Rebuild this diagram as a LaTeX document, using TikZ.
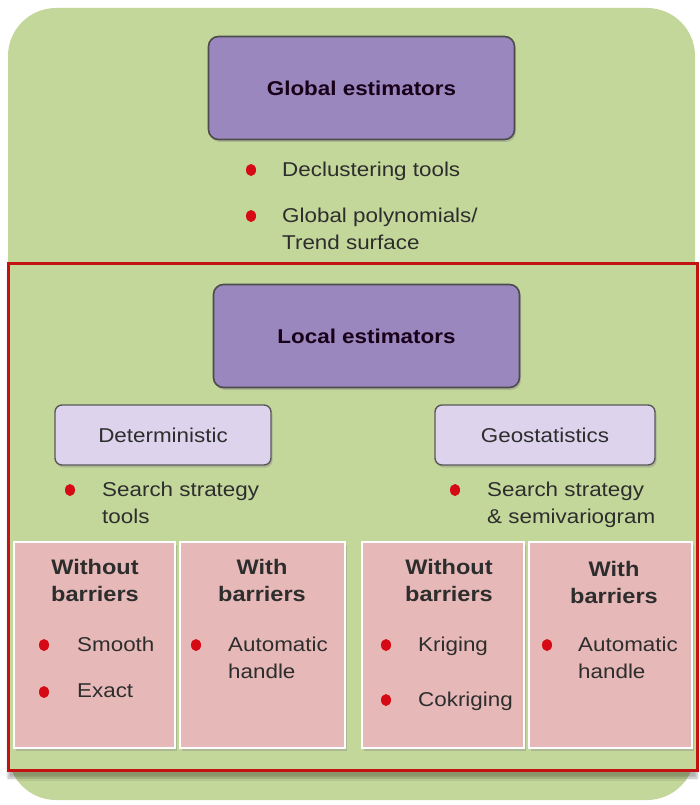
\documentclass[tikz,border=0pt]{standalone}
\usepackage{fontspec}
\setmainfont[FakeStretch=1.12]{Liberation Sans}
\usetikzlibrary{shadows,shadows.blur,shapes.geometric}

\definecolor{leafgreen}{RGB}{196,215,155}
\definecolor{violetbox}{RGB}{153,135,190}
\definecolor{lilacbox}{RGB}{221,211,236}
\definecolor{rosebox}{RGB}{230,185,184}
\definecolor{framered}{RGB}{196,18,18}
\definecolor{dotred}{RGB}{214,10,20}
\definecolor{inkgray}{RGB}{45,45,45}

\begin{document}
\begin{tikzpicture}[x=1pt, y=-1pt,
    panel/.style={fill=leafgreen, rounded corners=48pt},
    frame/.style={draw=framered, line width=3pt, fill=leafgreen,
                  blur shadow={shadow xshift=0pt, shadow yshift=-8pt,
                               shadow blur steps=8, shadow opacity=30}},
    estbox/.style={draw=black!70, line width=1.6pt, rounded corners=10pt,
                   fill=violetbox, minimum width=306pt, minimum height=103pt,
                   font=\fontsize{20}{24}\selectfont\bfseries, text=black!80!violet,
                   drop shadow={opacity=0.35, shadow xshift=1.5pt, shadow yshift=-2.5pt}},
    kindbox/.style={draw=black!65, line width=1.4pt, rounded corners=7pt,
                    fill=lilacbox, minimum height=60pt,
                    font=\fontsize{20}{24}\selectfont, text=inkgray,
                    drop shadow={opacity=0.35, shadow xshift=1.5pt, shadow yshift=-2.5pt}},
    casebox/.style={draw=white, line width=1.5pt, fill=rosebox, minimum height=206pt,
                    drop shadow={opacity=0.35, shadow xshift=2pt, shadow yshift=-3pt}},
    head/.style={anchor=north, align=center, inner sep=0pt,
                 font=\fontsize{21}{27}\selectfont\bfseries, text=inkgray},
    item/.style={anchor=north west, align=left, inner sep=0pt,
                 font=\fontsize{20}{27}\selectfont, text=inkgray},
    bul/.style={ellipse, fill=dotred, inner sep=0pt, minimum width=10pt, minimum height=12pt}
]
  \useasboundingbox (0,0) rectangle (700,805);

  % Background and local frame
  \node[panel, minimum width=687pt, minimum height=792pt] (panel) at (351.5,404) {};
  \node[frame, minimum width=689pt, minimum height=507pt] (localframe) at (352.5,516.5) {};

  % Global estimators
  \node[estbox] (global) at (361.5,88) {Global estimators};
  \node[bul] (gdot1) at (251,170) {};
  \node[item] (gitem1) at (282,162) {Declustering tools};
  \node[bul] (gdot2) at (251,216) {};
  \node[item] (gitem2) at (282,208) {Global polynomials/\\Trend surface};

  % Local estimators
  \node[estbox] (local) at (366.5,336) {Local estimators};
  \node[kindbox, minimum width=216pt] (determ) at (163,435) {Deterministic};
  \node[kindbox, minimum width=220pt] (geostat) at (545,435) {Geostatistics};
  \node[bul] (ddot) at (70,490) {};
  \node[item] (ditem) at (102,482) {Search strategy\\tools};
  \node[bul] (sdot) at (455,490) {};
  \node[item] (sitem) at (487,482) {Search strategy\\\& semivariogram};

  % Barrier cases
  \node[casebox, minimum width=161pt] (detwo) at (94.5,645) {};
  \node[casebox, minimum width=165pt] (detwith) at (262.5,645) {};
  \node[casebox, minimum width=162pt] (geowo) at (443,645) {};
  \node[casebox, minimum width=163pt] (geowith) at (610.5,645) {};

  \node[head] (detwohead) at (95,559) {Without\\barriers};
  \node[bul] (smdot) at (44,645) {};
  \node[item] (smitem) at (77,637) {Smooth};
  \node[bul] (exdot) at (44,692) {};
  \node[item] (exitem) at (77,684) {Exact};

  \node[head] (detwithhead) at (262,559) {With\\barriers};
  \node[bul] (dadot) at (196,645) {};
  \node[item] (daitem) at (228,637) {Automatic\\handle};

  \node[head] (geowohead) at (449,559) {Without\\barriers};
  \node[bul] (krdot) at (386,645) {};
  \node[item] (kritem) at (418,637) {Kriging};
  \node[bul] (ckdot) at (386,700) {};
  \node[item] (ckitem) at (418,692) {Cokriging};

  \node[head] (geowithhead) at (614,561) {With\\barriers};
  \node[bul] (gadot) at (547,645) {};
  \node[item] (gaitem) at (578,637) {Automatic\\handle};
\end{tikzpicture}
\end{document}
